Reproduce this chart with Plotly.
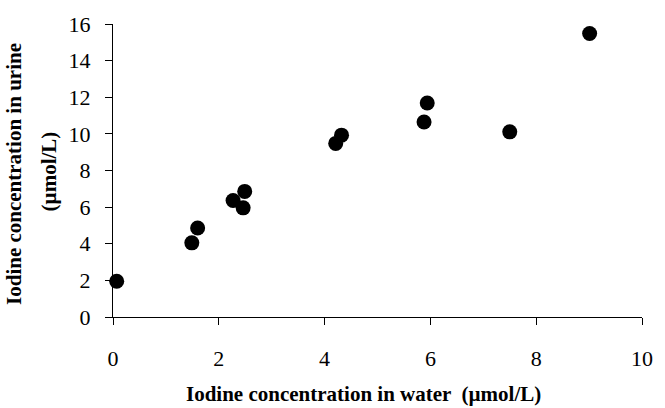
import plotly.graph_objects as go

water = [0.07, 1.49, 1.60, 2.27, 2.46, 2.49, 4.21, 4.32, 5.88, 5.94, 7.50, 9.01]
urine = [1.95, 4.05, 4.86, 6.36, 5.96, 6.86, 9.48, 9.93, 10.65, 11.69, 10.11, 15.48]

x_ticks = [0, 2, 4, 6, 8, 10]
y_ticks = [0, 2, 4, 6, 8, 10, 12, 14, 16]

x_title = "Iodine concentration in water  (µmol/L)"
y_title_1 = "Iodine concentration in urine"
y_title_2 = "(µmol/L)"

FONT = "Liberation Serif, Times New Roman, serif"

fig = go.Figure()
fig.add_trace(go.Scatter(
    x=water, y=urine, mode="markers",
    marker=dict(size=15, color="black", line=dict(width=0)),
    cliponaxis=False, showlegend=False,
))

W, H = 665, 408
L, R, T, B = 113, 15, 21, 91
pw, ph = W - L - R, H - T - B

fig.update_layout(
    width=W, height=H,
    margin=dict(l=L, r=R, t=T, b=B),
    paper_bgcolor="white", plot_bgcolor="white",
    font=dict(family=FONT, color="black", size=22),
    xaxis=dict(range=[0, 10], tickvals=x_ticks, ticks="outside", ticklen=7,
               tickcolor="black", showline=True, linecolor="black", linewidth=1,
               showgrid=False, zeroline=False, tickfont=dict(size=22, family=FONT),
               ticklabelstandoff=15),
    yaxis=dict(range=[0, 16], tickvals=y_ticks, ticks="outside", ticklen=7,
               tickcolor="black", showline=True, linecolor="black", linewidth=1,
               showgrid=False, zeroline=False, tickfont=dict(size=22, family=FONT),
               ticklabelstandoff=10),
    annotations=[
        dict(text="<b>" + x_title + "</b>", xref="paper", yref="paper",
             x=(367 - L) / pw, y=(T + ph - 395) / ph, xanchor="center", yanchor="middle",
             showarrow=False, font=dict(size=21, family=FONT)),
        dict(text="<b>" + y_title_1 + "</b>", xref="paper", yref="paper",
             x=(13 - L) / pw, y=(T + ph - 172) / ph, xanchor="center", yanchor="middle",
             textangle=-90, showarrow=False, font=dict(size=21, family=FONT)),
        dict(text="<b>" + y_title_2 + "</b>", xref="paper", yref="paper",
             x=(49 - L) / pw, y=(T + ph - 170) / ph, xanchor="center", yanchor="middle",
             textangle=-90, showarrow=False, font=dict(size=21, family=FONT)),
    ],
)

fig.write_html("out.html")
